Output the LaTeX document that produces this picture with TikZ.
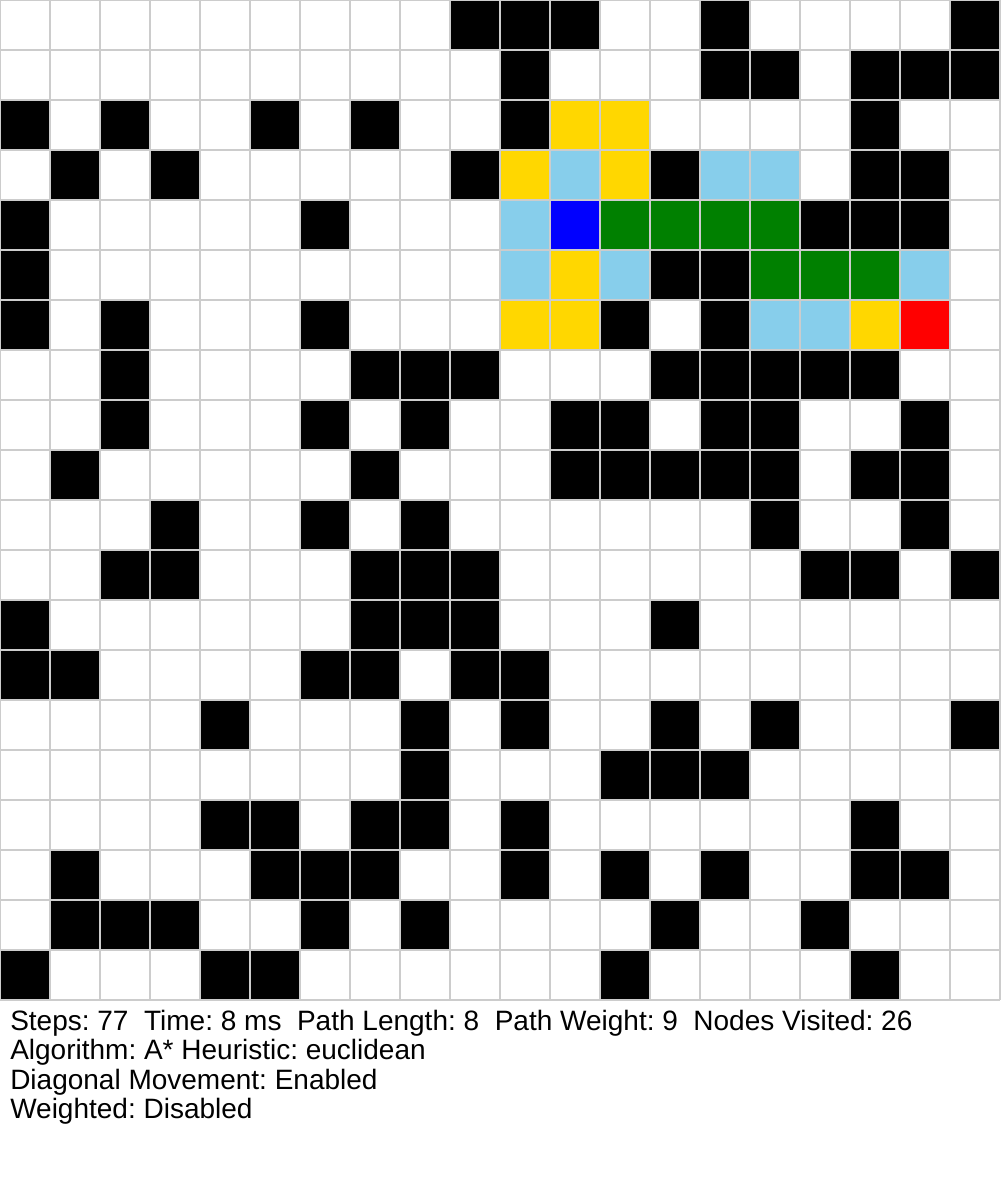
\documentclass[tikz,border=0pt]{standalone}
\usepackage{fontspec}
\setmainfont{Liberation Sans}
\definecolor{gridc}{HTML}{CCCCCC}
\definecolor{goldc}{HTML}{FFD700}
\definecolor{skyc}{HTML}{87CEEB}
\definecolor{bluec}{HTML}{0000FF}
\definecolor{greenc}{HTML}{008000}
\definecolor{redc}{HTML}{FF0000}
\tikzset{
  gridline/.style={draw=gridc, line width=0.9pt},
  infotext/.style={anchor=base west, inner sep=0pt, font=\fontsize{21}{25}\selectfont\frenchspacing, text=black}
}
\begin{document}
\begin{tikzpicture}[x=0.75pt,y=-0.75pt]
\useasboundingbox (0,0) rectangle (1000,1200);
\fill[white] (0,0) rectangle (1000,1200);
% walls
\foreach \r/\cs in {
  0/{9,10,11,14,19},
  1/{10,14,15,17,18,19},
  2/{0,2,5,7,10,17},
  3/{1,3,9,13,17,18},
  4/{0,6,16,17,18},
  5/{0,13,14},
  6/{0,2,6,12,14},
  7/{2,7,8,9,13,14,15,16,17},
  8/{2,6,8,11,12,14,15,18},
  9/{1,7,11,12,13,14,15,17,18},
  10/{3,6,8,15,18},
  11/{2,3,7,8,9,16,17,19},
  12/{0,7,8,9,13},
  13/{0,1,6,7,9,10},
  14/{4,8,10,13,15,19},
  15/{8,12,13,14},
  16/{4,5,7,8,10,17},
  17/{1,5,6,7,10,12,14,17,18},
  18/{1,2,3,6,8,13,16},
  19/{0,4,5,12,17}} {
  \foreach \c in \cs {
    \fill[black] (\c*50,\r*50) rectangle ++(50,50);
  }
}
% search cells
\foreach \c/\r/\col in {
  11/2/goldc, 12/2/goldc, 10/3/goldc, 12/3/goldc, 11/5/goldc, 10/6/goldc, 11/6/goldc, 17/6/goldc,
  11/3/skyc, 14/3/skyc, 15/3/skyc, 10/4/skyc, 10/5/skyc, 12/5/skyc, 18/5/skyc, 15/6/skyc, 16/6/skyc,
  11/4/bluec,
  12/4/greenc, 13/4/greenc, 14/4/greenc, 15/4/greenc, 15/5/greenc, 16/5/greenc, 17/5/greenc,
  18/6/redc} {
  \fill[\col] (\c*50,\r*50) rectangle ++(50,50);
}
% grid lines
\foreach \i in {0,...,20} {
  \draw[gridline] (\i*50,0) -- (\i*50,1000);
  \draw[gridline] (0,\i*50) -- (1000,\i*50);
}
% info text
\node[infotext] (l1) at (10,1030) {Steps: 77\ \ Time: 8 ms\ \ Path Length: 8\ \ Path Weight: 9\ \ Nodes Visited: 26};
\node[infotext] (l2) at (10,1059.5) {Algorithm: A* Heuristic: euclidean};
\node[infotext] (l3) at (10,1089) {Diagonal Movement: Enabled};
\node[infotext] (l4) at (10,1118.5) {Weighted: Disabled};
\end{tikzpicture}
\end{document}
